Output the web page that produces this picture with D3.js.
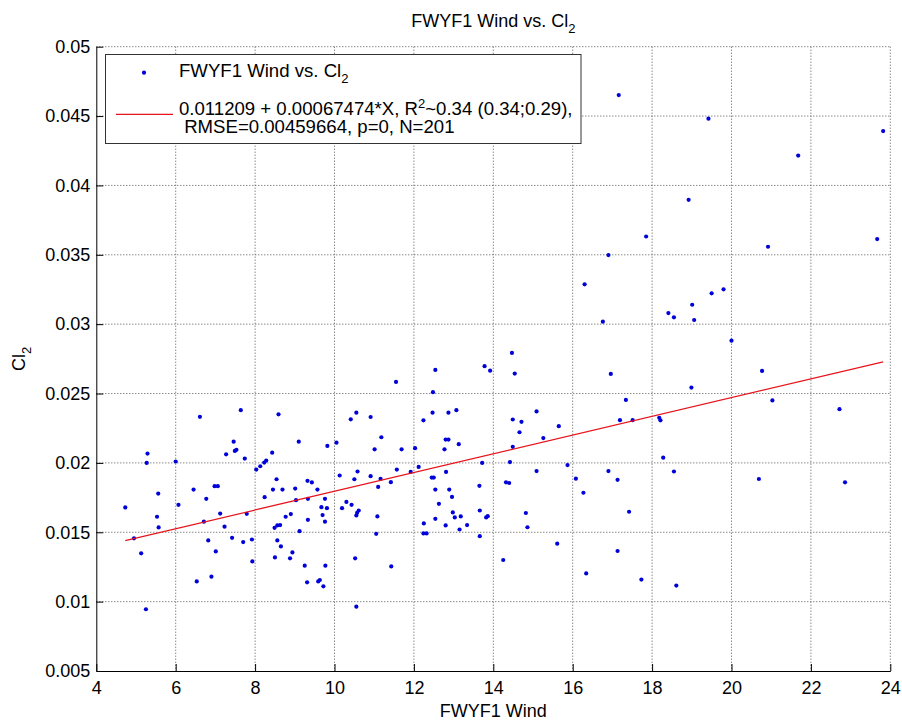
<!DOCTYPE html>
<html>
<head>
<meta charset="utf-8">
<script src="https://cdn.jsdelivr.net/npm/d3@7"></script>
<style>
  body { margin: 0; background: #fff; }
  svg text { font-family: "Liberation Sans", Arial, Helvetica, sans-serif; fill: #000; }
</style>
</head>
<body>
<svg id="chart" width="902" height="724"></svg>
<script>
// FWYF1 wind speed vs. Cl2, one entry per sample
const wind = [
  4.73, 4.95, 5.13, 5.29, 5.27, 5.25, 5.56, 5.53, 5.57, 6.00,
  6.07, 6.45, 6.71, 6.77, 6.53, 6.90, 6.82, 7.01, 6.98, 7.06,
  7.12, 7.27, 7.46, 7.49, 7.53, 7.23, 7.42, 7.70, 7.74, 7.79,
  7.92, 7.93, 8.03, 8.13, 8.23, 8.28, 8.24, 6.61, 7.64, 8.59,
  8.43, 8.54, 8.45, 8.69, 9.01, 9.10, 9.32, 9.43, 9.57, 9.03,
  9.33, 8.77, 8.90, 8.49, 8.56, 8.63, 9.12, 8.56, 8.65, 8.50,
  8.94, 8.88, 9.25, 9.33, 9.31, 9.59, 9.63, 9.72, 9.77, 9.67,
  9.81, 9.76, 9.70, 9.76, 9.82, 10.05, 10.13, 10.50, 10.58, 10.19,
  10.30, 10.43, 10.55, 10.57, 10.61, 10.52, 10.55, 10.41, 10.55, 10.91,
  11.18, 11.01, 10.91, 11.10, 11.16, 11.08, 11.05, 11.43, 11.42, 11.57,
  11.69, 11.92, 12.03, 12.12, 12.24, 12.47, 12.87, 12.80, 12.87, 12.77,
  12.81, 12.45, 12.50, 12.54, 12.89, 12.63, 12.54, 12.80, 12.25, 12.24,
  12.32, 11.55, 12.54, 12.48, 13.07, 13.13, 12.96, 12.98, 13.03, 13.18,
  13.15, 13.34, 13.66, 13.65, 13.66, 13.82, 13.86, 13.72, 13.78, 13.92,
  14.47, 14.54, 14.49, 14.71, 14.66, 15.09, 15.26, 15.65, 14.49, 14.42,
  14.32, 14.40, 15.09, 14.82, 14.86, 14.25, 15.61, 15.87, 16.08, 16.27,
  16.34, 16.90, 17.13, 17.13, 16.96, 17.34, 17.19, 17.42, 17.51, 17.73,
  18.61, 18.18, 18.21, 18.99, 20.00, 20.77, 21.03, 22.72, 18.28, 18.55,
  20.69, 22.86, 17.16, 19.42, 21.68, 23.82, 18.92, 17.85, 16.90, 20.92,
  23.67, 16.76, 18.41, 18.55, 19.01, 19.06, 19.50, 19.80, 16.30
]
const cl2 = [
  0.01679, 0.01456, 0.01348, 0.02067, 0.02000, 0.00945, 0.01779, 0.01612, 0.01535, 0.02010,
  0.01698, 0.01808, 0.01576, 0.01741, 0.01146, 0.01180, 0.01441, 0.01362, 0.01832, 0.01832,
  0.01635, 0.02062, 0.02153, 0.02086, 0.02094, 0.01540, 0.01460, 0.01429, 0.02031, 0.01633,
  0.01448, 0.01290, 0.01952, 0.01976, 0.02002, 0.02017, 0.01753, 0.02332, 0.02380, 0.02350,
  0.02074, 0.01882, 0.01808, 0.01808, 0.01815, 0.02153, 0.01871, 0.01859, 0.01808, 0.01731,
  0.01741, 0.01612, 0.01631, 0.01532, 0.01549, 0.01552, 0.01508, 0.01441, 0.01398, 0.01319,
  0.01355, 0.01312, 0.01259, 0.01590, 0.01139, 0.01146, 0.01156, 0.01110, 0.01259, 0.01681,
  0.01674, 0.01741, 0.01624, 0.01576, 0.02122, 0.02146, 0.01909, 0.01882, 0.01938, 0.01674,
  0.01719, 0.01698, 0.01621, 0.01640, 0.01657, 0.01312, 0.00964, 0.02314, 0.02362, 0.02331,
  0.02185, 0.02098, 0.01904, 0.01827, 0.01885, 0.01614, 0.01489, 0.01254, 0.01861, 0.01952,
  0.02098, 0.01935, 0.02106, 0.01971, 0.02307, 0.02362, 0.02362, 0.02168, 0.02168, 0.02098,
  0.01935, 0.01894, 0.01894, 0.01808, 0.01808, 0.01705, 0.01597, 0.01549, 0.01564, 0.01492,
  0.01492, 0.02584, 0.02670, 0.02510, 0.02380, 0.02135, 0.01755, 0.01643, 0.01607, 0.01614,
  0.01520, 0.01552, 0.01472, 0.01835, 0.01657, 0.01607, 0.01616, 0.02000, 0.02697, 0.02665,
  0.02793, 0.02644, 0.02313, 0.02296, 0.02221, 0.02371, 0.02179, 0.02265, 0.02116, 0.02006,
  0.01860, 0.01855, 0.01941, 0.01639, 0.01536, 0.01300, 0.01418, 0.01984, 0.01886, 0.01785,
  0.01203, 0.01941, 0.01878, 0.01365, 0.02641, 0.02454, 0.02308, 0.01648, 0.02308, 0.01159,
  0.01116, 0.02325, 0.02307, 0.02543, 0.02881, 0.02663, 0.02450, 0.02387, 0.02038, 0.01938,
  0.01884, 0.01860, 0.04651, 0.04481, 0.04215, 0.04392, 0.03896, 0.03632, 0.03498, 0.03558,
  0.03613, 0.03018, 0.03080, 0.03049, 0.03140, 0.03030, 0.03222, 0.03251, 0.03287
]
const xTicks = [4, 6, 8, 10, 12, 14, 16, 18, 20, 22, 24]
const yTicks = [0.005, 0.01, 0.015, 0.02, 0.025, 0.03, 0.035, 0.04, 0.045, 0.05]

// linear fit reported in the legend
const intercept = 0.011209
const slope = 0.00067474
const fitStats = {r2: "0.34", ci: "(0.34;0.29)", rmse: "0.00459664", p: "0", n: 201}

const margins = {left: 96.3, right: 11.7, top: 46.7, bottom: 53}
const width = 902, height = 724
const innerW = width - margins.left - margins.right
const innerH = height - margins.top - margins.bottom

const svg = d3.select("#chart")
const xScale = d3.scaleLinear().domain([4, 24]).range([0, innerW])
const yScale = d3.scaleLinear().domain([0.005, 0.05]).range([innerH, 0])

const g = svg.append("g")
  .attr("transform", `translate(${margins.left}, ${margins.top})`)

// dotted grid
g.append("g")
  .selectAll("line")
  .data(xTicks.slice(1))
  .join("line")
  .attr("x1", d => xScale(d)).attr("x2", d => xScale(d))
  .attr("y1", 0).attr("y2", innerH)
  .attr("stroke", "#555").attr("stroke-width", 1)
  .attr("stroke-dasharray", "1,2")
g.append("g")
  .selectAll("line")
  .data(yTicks.slice(1))
  .join("line")
  .attr("x1", 0).attr("x2", innerW)
  .attr("y1", d => yScale(d)).attr("y2", d => yScale(d))
  .attr("stroke", "#555").attr("stroke-width", 1)
  .attr("stroke-dasharray", "1,2")

// axes, ticks pointing inwards like matlab
const xAxis = g.append("g")
  .attr("transform", `translate(0, ${innerH})`)
  .call(d3.axisBottom(xScale).tickValues(xTicks).tickSizeInner(-7).tickSizeOuter(0).tickPadding(10))
const yAxis = g.append("g")
  .call(d3.axisLeft(yScale).tickValues(yTicks).tickFormat(d3.format("~g")).tickSizeInner(-7).tickSizeOuter(0).tickPadding(6))
;[xAxis, yAxis].forEach(a => {
  a.selectAll("text").style("font-size", "18px").attr("fill", "#000")
  a.selectAll("line,path").attr("stroke", "#000")
})

// scatter
const pts = wind.map((w, i) => ({x: w, y: cl2[i]}))
g.append("g")
  .selectAll("circle")
  .data(pts)
  .join("circle")
  .attr("cx", d => xScale(d.x))
  .attr("cy", d => yScale(d.y))
  .attr("r", 2.1)
  .attr("fill", "#0000d8")

// fit line over the data range
const xExt = d3.extent(wind)
g.append("line")
  .attr("x1", xScale(xExt[0])).attr("y1", yScale(intercept + slope * xExt[0]))
  .attr("x2", xScale(xExt[1])).attr("y2", yScale(intercept + slope * xExt[1]))
  .attr("stroke", "#e8141c").attr("stroke-width", 1.2)

// title and labels
const title = svg.append("text")
  .attr("x", margins.left + innerW / 2).attr("y", 27)
  .attr("text-anchor", "middle").style("font-size", "18px")
title.append("tspan").text("FWYF1 Wind vs. Cl")
title.append("tspan").attr("dy", 6).style("font-size", "13px").text("2")

svg.append("text")
  .attr("x", margins.left + innerW / 2).attr("y", 717)
  .attr("text-anchor", "middle").style("font-size", "18px")
  .text("FWYF1 Wind")

const ylab = svg.append("text")
  .attr("transform", `translate(25, ${margins.top + innerH / 2}) rotate(-90)`)
  .attr("text-anchor", "middle").style("font-size", "18px")
ylab.append("tspan").text("Cl")
ylab.append("tspan").attr("dy", 6).style("font-size", "13px").text("2")

// legend
const leg = svg.append("g").attr("transform", "translate(105.5, 54.5)")
leg.append("rect")
  .attr("width", 475.5).attr("height", 89)
  .attr("fill", "#fff").attr("stroke", "#333").attr("stroke-width", 1)
leg.append("circle").attr("cx", 38.5).attr("cy", 18.2).attr("r", 2.1).attr("fill", "#0000d8")
const l1 = leg.append("text").attr("x", 73.5).attr("y", 22.5).style("font-size", "18.6px")
l1.append("tspan").text("FWYF1 Wind vs. Cl")
l1.append("tspan").attr("dy", 6).style("font-size", "13px").text("2")

leg.append("line")
  .attr("x1", 10.5).attr("x2", 67.5).attr("y1", 59.8).attr("y2", 59.8)
  .attr("stroke", "#e8141c").attr("stroke-width", 1.2)
const l2 = leg.append("text").attr("x", 73.5).attr("y", 60.5).style("font-size", "18.6px")
l2.append("tspan").text(`${intercept} + ${slope}*X, R`)
l2.append("tspan").attr("dy", -7).style("font-size", "13px").text("2")
l2.append("tspan").attr("dy", 7).text(`~${fitStats.r2} ${fitStats.ci},`)
leg.append("text").attr("x", 73.5).attr("y", 78.5).style("font-size", "18.6px")
  .attr("xml:space", "preserve")
  .style("white-space", "pre")
  .text(` RMSE=${fitStats.rmse}, p=${fitStats.p}, N=${fitStats.n}`)
</script>
</body>
</html>
